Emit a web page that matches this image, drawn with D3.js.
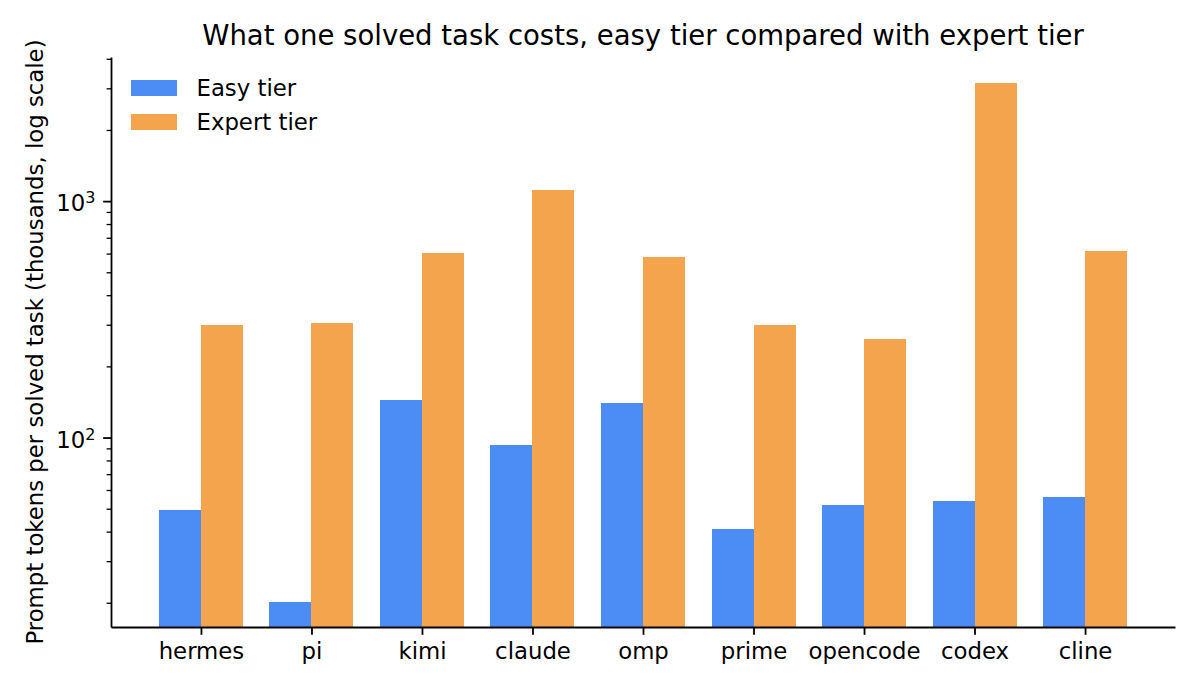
<!DOCTYPE html>
<html lang="en">
<head>
    <meta charset="UTF-8">
    <title>What one solved task costs</title>
    <script src="https://cdn.jsdelivr.net/npm/d3@7/dist/d3.min.js"></script>
    <style>
        body {
            margin: 0;
            background: #fff;
        }

        svg {
            display: block;
            font-family: "DejaVu Sans", sans-serif;
        }

        svg .axis path,
        svg .axis line {
            stroke: #000;
        }

        svg .axis path {
            stroke-width: 1.8px;
        }

        svg .axis text {
            fill: #000;
            font-size: 22.8px;
            font-family: "DejaVu Sans", sans-serif;
        }

        svg .bar {
            shape-rendering: crispEdges;
        }

        svg .title {
            font-size: 27.5px;
        }

        svg .legend-item text,
        svg .y-label {
            font-size: 22.8px;
        }
    </style>
</head>
<body>
<svg width="1200" height="690"></svg>
<script>

    // values (thousands of prompt tokens per solved task)
    var agents = ['hermes', 'pi', 'kimi', 'claude', 'omp', 'prime', 'opencode', 'codex', 'cline'];
    var easyTier = [49.5, 20.2, 144, 93, 140, 41.1, 52, 54, 56.2];
    var expertTier = [299, 305, 603, 1113, 580, 299, 261, 3150, 615];
    var seriesNames = ['Easy tier', 'Expert tier'];
    var seriesColors = ['#4c8cf5', '#f5a44e'];
    var majorTicks = [100, 1000];
    var majorTickLabels = [['10', '2'], ['10', '3']];
    var minorTicks = [20, 30, 40, 50, 60, 70, 80, 90,
                      200, 300, 400, 500, 600, 700, 800, 900,
                      2000, 3000, 4000];

    var svg = d3.select('svg'),
        margin = {
            top: 57,
            right: 25,
            bottom: 63,
            left: 111
        },
        chartWidth = 1200 - margin.left - margin.right,
        chartHeight = 690 - margin.top - margin.bottom,
        barWidth = 0.38;

    var xScale = d3.scaleLinear().domain([-0.814, agents.length - 1 + 0.814]).range([0, chartWidth]),
        yScale = d3.scaleLog().domain([15.8, 4070]).range([chartHeight, 0]);

    var chartGroup = svg.append('g')
                        .classed('chart-group', true)
                        .attr('transform', 'translate(' + [margin.left, margin.top] + ')');

    // bars, easy to the left of the tick, expert to the right
    [easyTier, expertTier].forEach(function(values, s) {
        chartGroup.append('g')
                    .classed('series-' + s, true)
                    .selectAll('rect')
                    .data(values)
                    .enter()
                    .append('rect')
                    .classed('bar', true)
                    .attr('x', function(d, i) {
                        return xScale(i - barWidth + s * barWidth);
                    })
                    .attr('width', function(d, i) {
                        return xScale(i + barWidth) - xScale(i);
                    })
                    .attr('y', function(d) {
                        return yScale(d);
                    })
                    .attr('height', function(d) {
                        return chartHeight - yScale(d);
                    })
                    .style('fill', seriesColors[s]);
    });

    // axes
    var xAxis = d3.axisBottom(xScale)
                    .tickValues(d3.range(agents.length))
                    .tickFormat(function(i) { return agents[i]; })
                    .tickSize(7.8)
                    .tickSizeOuter(0)
                    .tickPadding(8);

    var xAxisGroup = chartGroup.append('g')
                .attr('transform', 'translate(' + [0, chartHeight] + ')')
                .classed('x-axis axis', true)
                .call(xAxis);
    xAxisGroup.selectAll('.tick line').style('stroke-width', '1.8px');

    var yMinor = d3.axisLeft(yScale)
                    .tickValues(minorTicks)
                    .tickFormat('')
                    .tickSize(4.4)
                    .tickSizeOuter(0);

    chartGroup.append('g')
                .classed('y-minor axis', true)
                .call(yMinor)
                .call(function(g) {
                    g.select('.domain').remove();
                    g.selectAll('.tick line').style('stroke-width', '1.3px');
                });

    var yAxis = d3.axisLeft(yScale)
                    .tickValues(majorTicks)
                    .tickFormat('')
                    .tickSize(7.8)
                    .tickSizeOuter(0)
                    .tickPadding(7.8);

    var yAxisGroup = chartGroup.append('g')
                .classed('y-axis axis', true)
                .call(yAxis);
    yAxisGroup.selectAll('.tick line').style('stroke-width', '1.8px');

    // 10^k labels with a raised exponent
    yAxisGroup.selectAll('.tick text')
                .attr('x', -15.6)
                .attr('dy', '0.42em')
                .each(function(d, i) {
                    var t = d3.select(this);
                    t.append('tspan').text(majorTickLabels[i][0]);
                    t.append('tspan')
                        .attr('dy', '-0.5em')
                        .style('font-size', '16px')
                        .text(majorTickLabels[i][1]);
                });

    // labels
    svg.append('text')
        .classed('title', true)
        .attr('x', margin.left + chartWidth / 2)
        .attr('y', 45)
        .attr('text-anchor', 'middle')
        .text('What one solved task costs, easy tier compared with expert tier');

    svg.append('text')
        .classed('y-label', true)
        .attr('transform', 'translate(43,' + (margin.top + chartHeight / 2) + ') rotate(-90)')
        .attr('text-anchor', 'middle')
        .text('Prompt tokens per solved task (thousands, log scale)');

    // legend
    var legendItem = chartGroup.append('g')
                        .classed('legend-wrapper', true)
                        .selectAll('.legend-item')
                        .data(seriesNames)
                        .enter()
                        .append('g')
                        .classed('legend-item', true)
                        .attr('transform', function(d, i) {
                            return 'translate(' + [20, 23 + i * 34] + ')';
                        });

    legendItem.append('rect')
                .attr('width', 46)
                .attr('height', 16)
                .style('fill', function(d, i) {
                    return seriesColors[i];
                });

    legendItem.append('text')
                .attr('x', 65.5)
                .attr('y', 16)
                .text(function(d) {
                    return d;
                });

</script>
</body>
</html>
